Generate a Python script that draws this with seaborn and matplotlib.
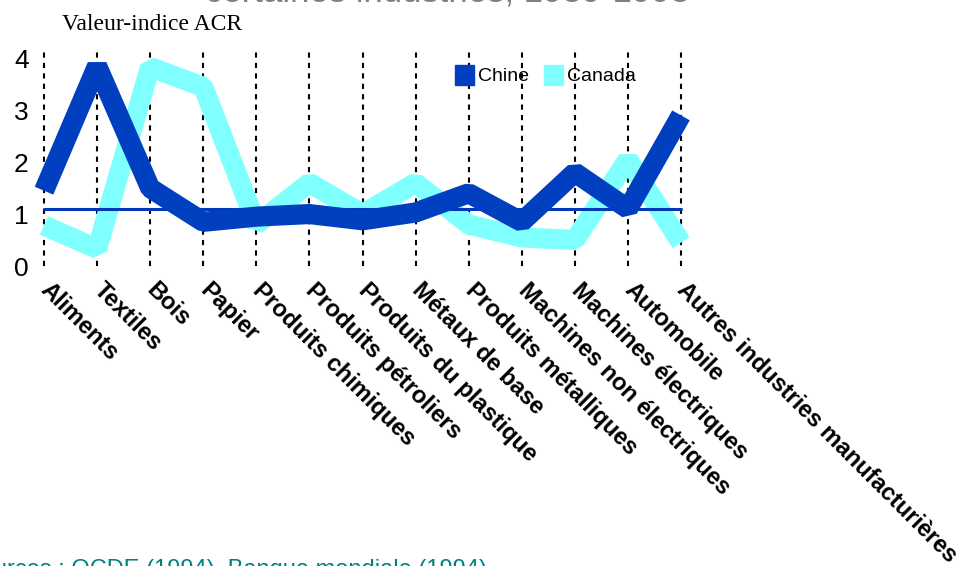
import pandas as pd
import seaborn as sns
import matplotlib.pyplot as plt
from matplotlib.patches import Patch

# data
categories = ["Aliments", "Textiles", "Bois", "Papier", "Produits chimiques",
              "Produits pétroliers", "Produits du plastique", "Métaux de base",
              "Produits métalliques", "Machines non électriques",
              "Machines électriques", "Automobile",
              "Autres industries manufacturières"]
chine = [1.45, 3.85, 1.5, 0.85, 0.95, 1.0, 0.88, 1.03, 1.4, 0.85, 1.8, 1.1, 2.9]
canada = [0.78, 0.33, 3.83, 3.45, 0.8, 1.6, 1.0, 1.6, 0.8, 0.55, 0.5, 2.05, 0.45]
reference_level = 1.1
y_ticks = [0, 1, 2, 3, 4]

col_chine = "#0040C0"
col_canada = "#80FFFF"

sns.set_style("white")
plt.rcParams['font.family'] = ['Liberation Sans', 'DejaVu Sans']
plt.rcParams['text.color'] = 'black'
plt.rcParams['xtick.color'] = 'black'
plt.rcParams['ytick.color'] = 'black'

df = pd.DataFrame({"pos": range(len(categories)), "Chine": chine, "Canada": canada})

fig = plt.figure(figsize=(9.71, 5.66), dpi=100)
ax = fig.add_axes([44 / 971, 1 - 266 / 566, 637 / 971, 214 / 566])

# dotted gridlines at each category
for i in range(len(categories)):
    ax.plot([i, i], [0, 4.12], color="black", lw=1.5,
            linestyle=(0, (2.5, 2.5)), zorder=1, clip_on=False)

sns.lineplot(data=df, x="pos", y="Canada", color=col_canada, lw=14.5, ax=ax,
             sort=False, solid_joinstyle="bevel", solid_capstyle="butt",
             zorder=2, clip_on=False)
ax.plot([0, len(categories) - 1], [reference_level, reference_level],
        color="#0038B8", lw=2.2, zorder=3, clip_on=False)
sns.lineplot(data=df, x="pos", y="Chine", color=col_chine, lw=14.5, ax=ax,
             sort=False, solid_joinstyle="bevel", solid_capstyle="butt",
             zorder=4, clip_on=False)

ax.set_xlim(0, len(categories) - 1)
ax.set_ylim(0, 4.12)
ax.set_yticks(y_ticks)
ax.set_yticklabels([str(v) for v in y_ticks], fontsize=19)
ax.set_xticks(range(len(categories)))
ax.set_xticklabels(categories, rotation=-45, ha="left", va="center",
                   rotation_mode="anchor", fontweight="bold", fontsize=17)
ax.tick_params(axis="y", length=0, pad=11)
ax.tick_params(axis="x", length=0, pad=15)
ax.set_xlabel("")
ax.set_ylabel("")
sns.despine(ax=ax, left=True, bottom=True)

handles = [Patch(color=col_chine, label="Chine"), Patch(color=col_canada, label="Canada")]
fig.legend(handles=handles, loc="center left", bbox_to_anchor=(455 / 971, 1 - 75 / 566),
           ncol=2, frameon=False, fontsize=14, handlelength=1.0, handleheight=1.2,
           handletextpad=0.2, columnspacing=0.75, borderpad=0, borderaxespad=0)

fig.text(62 / 971, 1 - 25 / 566, "Valeur-indice ACR", family="Liberation Serif",
         fontsize=17, va="center", ha="left")
fig.text(690 / 971, 1 - 1.5 / 566, "certaines industries, 1989-1993", color="#808080",
         fontsize=25, ha="right", va="baseline")
fig.text(487 / 971, 1 - 576 / 566, "Sources : OCDE (1994), Banque mondiale (1994)",
         color="#008080", fontsize=17, ha="right", va="baseline")

fig.savefig("out.png", dpi=100)
